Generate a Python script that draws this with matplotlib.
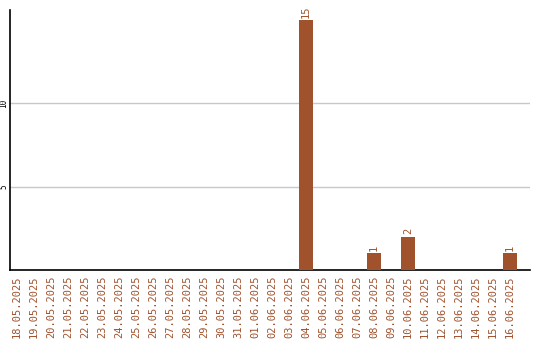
import matplotlib
matplotlib.use("Agg")
import matplotlib.pyplot as plt
import numpy as np

dates = ["18.05.2025","19.05.2025","20.05.2025","21.05.2025","22.05.2025","23.05.2025",
         "24.05.2025","25.05.2025","26.05.2025","27.05.2025","28.05.2025","29.05.2025",
         "30.05.2025","31.05.2025","01.06.2025","02.06.2025","03.06.2025","04.06.2025",
         "05.06.2025","06.06.2025","07.06.2025","08.06.2025","09.06.2025","10.06.2025",
         "11.06.2025","12.06.2025","13.06.2025","14.06.2025","15.06.2025","16.06.2025"]
values = [0,0,0,0,0,0,0,0,0,0,0,0,0,0,0,0,0,15,0,0,0,1,0,2,0,0,0,0,0,1]
yticks = [5, 10]

color = "#A0522D"
fig = plt.figure(figsize=(5.4, 3.4), dpi=100)
ax = fig.add_axes([10/540, 70/340, 520/540, 260/340])
x = np.arange(len(dates))
ax.bar(x, values, width=0.82, color=color, zorder=3)
for xi, v in zip(x, values):
    if v > 0:
        ax.text(xi, v + 0.15, str(v), rotation=90, ha="center", va="bottom",
                color=color, fontsize=7.5, family="DejaVu Sans Mono")
ax.set_xlim(-7/17, (530-17)/17)
ax.set_ylim(0, 15.6)
ax.set_yticks(yticks)
ax.set_yticklabels([str(t) for t in yticks], rotation=90, va="center", fontsize=5.5,
                   family="DejaVu Sans Mono")
ax.set_xticks(x)
ax.set_xticklabels(dates, rotation=90, fontsize=7.5, color=color, family="DejaVu Sans Mono")
ax.tick_params(axis="x", length=0, pad=4)
ax.tick_params(axis="y", length=0, pad=1)
ax.yaxis.grid(True, color="#c8c8c8", linewidth=1, zorder=0)
for s in ["top", "right"]:
    ax.spines[s].set_visible(False)
for s in ["left", "bottom"]:
    ax.spines[s].set_linewidth(1.2)
    ax.spines[s].set_color("black")
fig.savefig("out.png", dpi=100)
